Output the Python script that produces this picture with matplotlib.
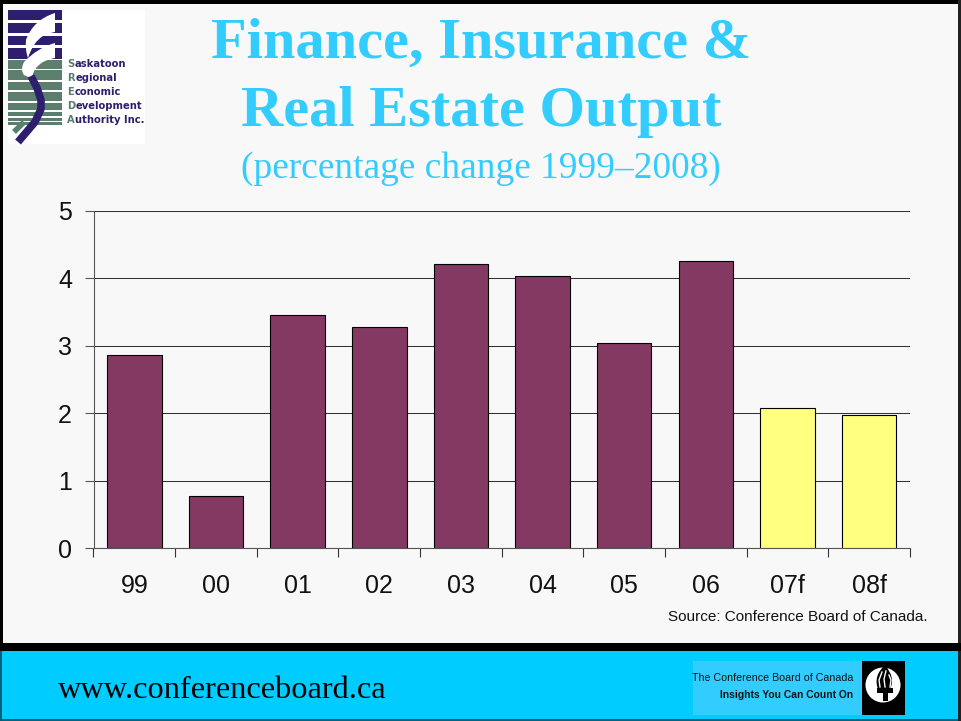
import numpy as np
import matplotlib
matplotlib.use("Agg")
import matplotlib.pyplot as plt
from matplotlib.patches import Rectangle, Circle, PathPatch
from matplotlib.path import Path

years = ['99', '00', '01', '02', '03', '04', '05', '06', '07f', '08f']
values = [2.86, 0.77, 3.46, 3.28, 4.21, 4.04, 3.04, 4.26, 2.08, 1.97]
bar_colors = ['#843963'] * 8 + ['#FFFF80'] * 2
y_ticks = [0, 1, 2, 3, 4, 5]

W, H = 961, 721
fig = plt.figure(figsize=(W / 100, H / 100), dpi=100, facecolor='#F8F8F8')

# overlay in pixel coordinates for the slide furniture
bg = fig.add_axes([0, 0, 1, 1], zorder=0)
bg.set_xlim(0, W)
bg.set_ylim(H, 0)
bg.axis('off')

def rect(x, y, w, h, color, z=1):
    bg.add_patch(Rectangle((x, y), w, h, facecolor=color, edgecolor='none', zorder=z))

def blob(points, color, z):
    # closed shape through quadratic curves: start, then (ctrl, end) pairs
    codes = [Path.MOVETO] + [Path.CURVE3] * (len(points) - 1) + [Path.CLOSEPOLY]
    bg.add_patch(PathPatch(Path(points + [points[0]], codes), facecolor=color, edgecolor='none', zorder=z))

# slide frame and footer
rect(0, 0, W, 4, 'black')
rect(0, 0, 3, 650, 'black')
rect(958, 0, 3, 721, '#222222')
rect(0, 643, W, 8, 'black')
rect(0, 651, 958, 70, '#00CCFF')
rect(0, 719, 958, 2, '#00607A', 2)
rect(0, 651, 2, 70, '#00607A', 2)
rect(693, 661, 169, 54, '#33CCFF', 2)
rect(862, 661, 43, 54, 'black', 2)

# torch badge
bg.add_patch(Circle((883, 685), 17.5, facecolor='white', edgecolor='none', zorder=3))
blob([(885, 665), (873, 676), (878, 689), (884, 692), (890, 689), (896, 678), (885, 665)], 'black', 4)
rect(877, 688, 16, 5, 'black', 5)
rect(883, 693, 5, 8, 'black', 5)
bg.plot([880, 879, 882], [687, 680, 672], color='white', lw=1, zorder=6)
bg.plot([885, 884, 886], [687, 679, 671], color='white', lw=1, zorder=6)
bg.plot([890, 891, 889], [687, 680, 675], color='white', lw=1, zorder=6)

# logo
rect(8, 10, 137, 134, 'white', 1)
navy = '#2E1F6E'
green = '#5C7F6D'
rect(8, 10, 54, 49, navy, 2)
rect(8, 60, 54, 65, green, 2)
for yy, hh in [(20, 3), (33, 3), (45, 3), (69, 1), (80, 2), (90, 2), (101, 2), (110, 2), (116, 2), (121, 1)]:
    rect(8, yy, 54, hh, 'white', 3)
blob([(55, 13), (33, 20), (26, 40), (25, 50), (28, 58), (33, 42), (43, 36), (49, 33), (55, 32)], 'white', 4)
blob([(55, 43), (37, 48), (24, 62), (20, 70), (24, 75), (30, 78), (32, 78), (33, 68), (43, 62), (49, 59), (55, 58)], 'white', 4)
bg.plot([31, 37, 41, 41, 35, 18], [76, 88, 100, 109, 122, 142], color=navy, lw=5.5,
        solid_capstyle='butt', solid_joinstyle='round', zorder=5)
bg.plot([14, 24], [132, 122], color=green, lw=4, solid_capstyle='butt', zorder=4)

logo_lines = [('S', 'askatoon', 64), ('R', 'egional', 78), ('E', 'conomic', 92),
              ('D', 'evelopment', 106), ('A', 'uthority Inc.', 120)]
renderer = fig.canvas.get_renderer()
for first, rest, yy in logo_lines:
    t = bg.text(67, yy, first, color=green, fontsize=7.2, fontweight='bold', va='center',
                family='DejaVu Sans', zorder=6)
    ext = t.get_window_extent(renderer)
    bg.text(ext.x1 + 0.5, yy, rest, color=navy, fontsize=7.2, fontweight='bold', va='center',
            family='DejaVu Sans', zorder=6)

# titles
title_color = '#33CCFF'
bg.text(481, 44, 'Finance, Insurance &', color=title_color, fontsize=42, fontweight='bold',
        family='Liberation Serif', ha='center', va='center', zorder=6)
bg.text(481, 112, 'Real Estate Output', color=title_color, fontsize=42, fontweight='bold',
        family='Liberation Serif', ha='center', va='center', zorder=6)
bg.text(481, 169, '(percentage change 1999\u20132008)', color=title_color, fontsize=26.9,
        family='Liberation Serif', ha='center', va='center', zorder=6)

# footer text
bg.text(58, 690, 'www.conferenceboard.ca', color='black', fontsize=23.3,
        family='Liberation Serif', ha='left', va='center', zorder=6)
bg.text(853, 678, 'The Conference Board of Canada', color='#111111', fontsize=7.7,
        family='Liberation Sans', ha='right', va='center', zorder=6)
bg.text(853, 695, 'Insights You Can Count On', color='#111111', fontsize=7.4, fontweight='bold',
        family='Liberation Sans', ha='right', va='center', zorder=6)
bg.text(928, 617, 'Source: Conference Board of Canada.', color='#111111', fontsize=11,
        family='Liberation Sans', ha='right', va='center', zorder=6)

# chart
ax = fig.add_axes([93.5 / W, 1 - 548 / H, (910 - 93.5) / W, (548 - 211) / H], zorder=2)
ax.patch.set_alpha(0)
x = np.arange(len(years))
ax.bar(x, values, width=0.667, color=bar_colors, edgecolor='black', linewidth=0.8, zorder=3)
ax.set_xlim(-0.5, len(years) - 0.5)
ax.set_ylim(0, 5)
ax.set_yticks(y_ticks)
ax.set_yticklabels([str(v) for v in y_ticks], fontsize=18, family='Liberation Sans', color='#111111')
ax.yaxis.grid(True, color='#333333', lw=0.75)
ax.set_axisbelow(True)
for side in ['top', 'right']:
    ax.spines[side].set_visible(False)
ax.spines['left'].set_color('#555555')
ax.spines['bottom'].set_color('#555555')
ax.set_xticks(np.append(x - 0.5, len(years) - 0.5))
ax.set_xticklabels([])
ax.tick_params(axis='x', length=6.5, width=0.8, color='#333333')
ax.tick_params(axis='y', length=6.5, width=0.8, color='#555555', pad=9)
for xi, lab in zip(x, years):
    ax.annotate(lab, (xi, 0), xytext=(0, -27.4), textcoords='offset points', ha='center', va='center',
                fontsize=18, family='Liberation Sans', color='#111111', annotation_clip=False)

fig.savefig('out.png', dpi=100, facecolor=fig.get_facecolor())
